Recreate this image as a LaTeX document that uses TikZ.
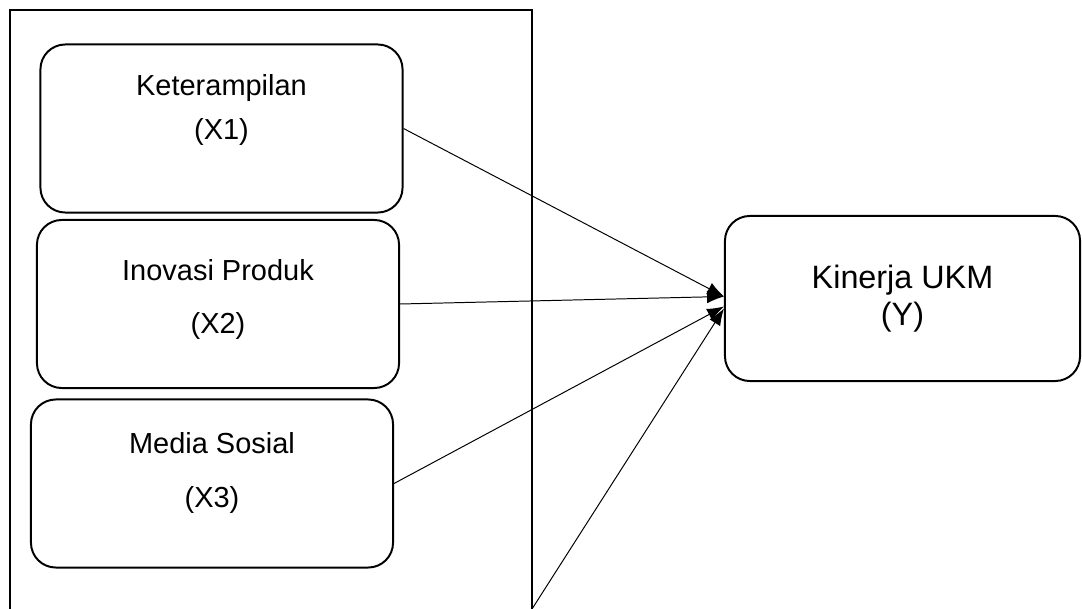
\documentclass[tikz,border=0pt]{standalone}
\usepackage{fontspec}
\setmainfont{Liberation Sans}
\usetikzlibrary{arrows.meta}

\begin{document}
\begin{tikzpicture}[x=0.025cm, y=-0.025cm,
        varbox/.style={draw, line width=1.4pt, rounded corners=0.62cm, minimum width=9.05cm, minimum height=4.2cm, inner sep=0pt},
        vartext/.style={font=\fontsize{20.6}{24}\selectfont, inner sep=0pt},
        link/.style={line width=0.7pt, -{Latex[length=12pt, width=9pt]}}]
        \useasboundingbox (0,0) rectangle (1082,609);

        % kelompok variabel bebas
        \draw[line width=1.4pt] (10,612) -- (10,10) -- (532,10) -- (532,612);
        \coordinate (sudut) at (532,609);

        % variabel X
        \node[varbox] (X1) at (221.5,128.5) {};
        \node[vartext] (X1a) at (221.5,88) {Keterampilan};
        \node[vartext] (X1b) at (221.5,132) {(X1)};

        \node[varbox] (X2) at (218,304) {};
        \node[vartext] (X2a) at (218,270) {Inovasi Produk};
        \node[vartext] (X2b) at (218,326) {(X2)};

        \node[varbox] (X3) at (212,483.5) {};
        \node[vartext] (X3a) at (212,443) {Media Sosial};
        \node[vartext] (X3b) at (212,500) {(X3)};

        % variabel Y
        \node[varbox, minimum width=8.875cm, minimum height=4.125cm, align=center,
              font=\fontsize{23}{26.5}\selectfont] (Y) at (902.5,298.5) {Kinerja UKM\\(Y)};

        \draw[link] (X1.east) -- ([yshift=0.05cm]Y.west);
        \draw[link] (X2.east) -- ([yshift=0.05cm]Y.west);
        \draw[link] (X3.east) -- ([yshift=-0.2cm]Y.west);
        \draw[link] (sudut) -- ([yshift=-0.25cm]Y.west);
\end{tikzpicture}
\end{document}
